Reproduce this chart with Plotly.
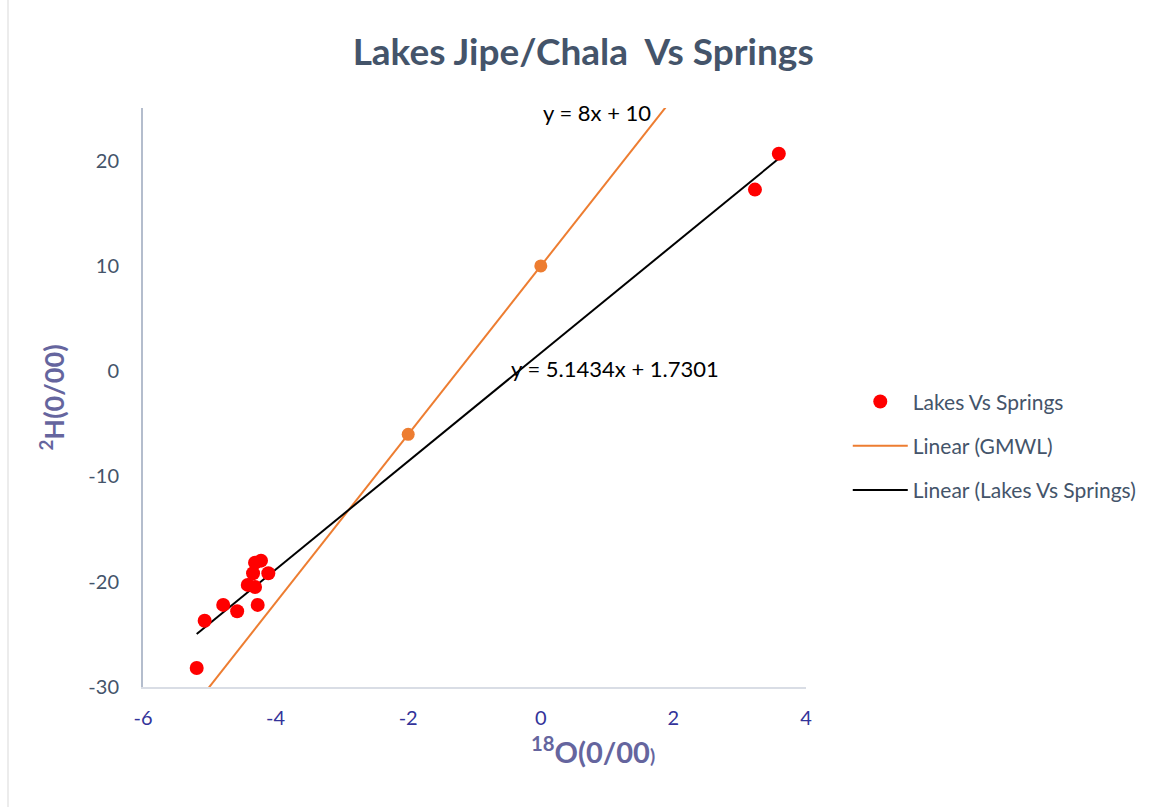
import numpy as np
import plotly.graph_objects as go

# Isotope samples: lakes (Jipe/Chala) and springs
o18 = [-5.19, -5.07, -4.79, -4.58, -4.27, -4.42, -4.31, -4.34, -4.11, -4.31, -4.22, 3.23, 3.59]
h2 = [-28.2, -23.7, -22.2, -22.8, -22.2, -20.3, -20.5, -19.2, -19.2, -18.2, -18.0, 17.25, 20.66]

# Global Meteoric Water Line reference points
gmwl_o18 = [-2, 0]
gmwl_h2 = [-6, 10]

# Trendline coefficients
gmwl_slope, gmwl_intercept = 8.0, 10.0
fit_slope, fit_intercept = 5.1434, 1.7301

x_ticks = [-6, -4, -2, 0, 2, 4]
x_labels = ["-6", "-4", "-2", "0", "2", "4"]
y_ticks = [-30, -20, -10, 0, 10, 20]
y_labels = ["-30", "-20", "-10", "0", "10", "20"]

FONT = "Lato, 'Open Sans', sans-serif"
SLATE = "#44546A"
AXIS_BLUE = "#33339A"
TITLE_PURPLE = "#65659E"

fig = go.Figure()

# GMWL trendline spans the whole plot area (clipped by axes)
gx = np.array([-7.0, 5.0])
fig.add_trace(go.Scatter(
    x=gx, y=gmwl_slope * gx + gmwl_intercept, mode="lines",
    line=dict(color="#ED7D31", width=2),
    name="Linear (GMWL)", legendgroup="b", legendrank=2,
))
fig.add_trace(go.Scatter(
    x=gmwl_o18, y=gmwl_h2, mode="markers",
    marker=dict(color="#ED7D31", size=13),
    name="GMWL", showlegend=False,
))

# Least-squares trendline across the sample range
fx = np.array([min(o18), max(o18)])
fig.add_trace(go.Scatter(
    x=fx, y=fit_slope * fx + fit_intercept, mode="lines",
    line=dict(color="#000000", width=2),
    name="Linear (Lakes Vs Springs)", legendgroup="c", legendrank=3,
))

fig.add_trace(go.Scatter(
    x=o18, y=h2, mode="markers",
    marker=dict(color="#FF0000", size=14),
    name="Lakes Vs Springs", legendgroup="a", legendrank=1,
))

fig.add_annotation(x=0.85, y=24.55, xref="x", yref="y", showarrow=False,
                   text="y = 8x + 10", font=dict(family=FONT, size=22, color="#000000"))
fig.add_annotation(x=1.12, y=0.25, xref="x", yref="y", showarrow=False,
                   text="y = 5.1434x + 1.7301", font=dict(family=FONT, size=22, color="#000000"))

# x-axis title placed as annotation (sits right of centre)
fig.add_annotation(x=0.78, y=-0.108, xref="x", yref="paper", yanchor="middle", showarrow=False,
                   text="<b><sup>18</sup>O(0/00<span style='font-size:19px'>)</span></b>",
                   font=dict(family=FONT, size=29, color=TITLE_PURPLE))

# chart-area border on the left edge
fig.add_shape(type="line", xref="paper", yref="paper",
              x0=-0.2036, x1=-0.2036, y0=-0.21, y1=1.19,
              line=dict(color="#D9D9D9", width=1))

fig.update_layout(
    width=1164, height=807,
    margin=dict(l=143, r=358, t=108, b=120),
    paper_bgcolor="white", plot_bgcolor="white",
    title=dict(text="<b>Lakes Jipe/Chala  Vs Springs</b>", x=0.501, xanchor="center",
               y=0.935, yanchor="middle",
               font=dict(family=FONT, size=37, color=SLATE)),
    showlegend=True,
    legend=dict(x=1.063, xanchor="left", y=0.528, yanchor="top",
                font=dict(family=FONT, size=21, color=SLATE),
                tracegroupgap=14, traceorder="grouped",
                bgcolor="rgba(0,0,0,0)", itemwidth=55),
    xaxis=dict(range=[-6, 4], tickvals=x_ticks, ticktext=x_labels, showgrid=False, zeroline=False,
               showline=True, linecolor="#D9DDE5", linewidth=2, ticks="",
               tickfont=dict(family=FONT, size=20, color=AXIS_BLUE), ticklabelstandoff=12),
    yaxis=dict(range=[-30, 25], tickvals=y_ticks, ticktext=y_labels, showgrid=False, zeroline=False,
               showline=True, linecolor="#B4BDCD", linewidth=2, ticks="",
               tickfont=dict(family=FONT, size=20, color=SLATE), ticklabelstandoff=18,
               title=dict(text="<b><sup>2</sup>H(0/00)</b>", standoff=16,
                          font=dict(family=FONT, size=27, color=TITLE_PURPLE))),
)

fig.write_html("out.html")
